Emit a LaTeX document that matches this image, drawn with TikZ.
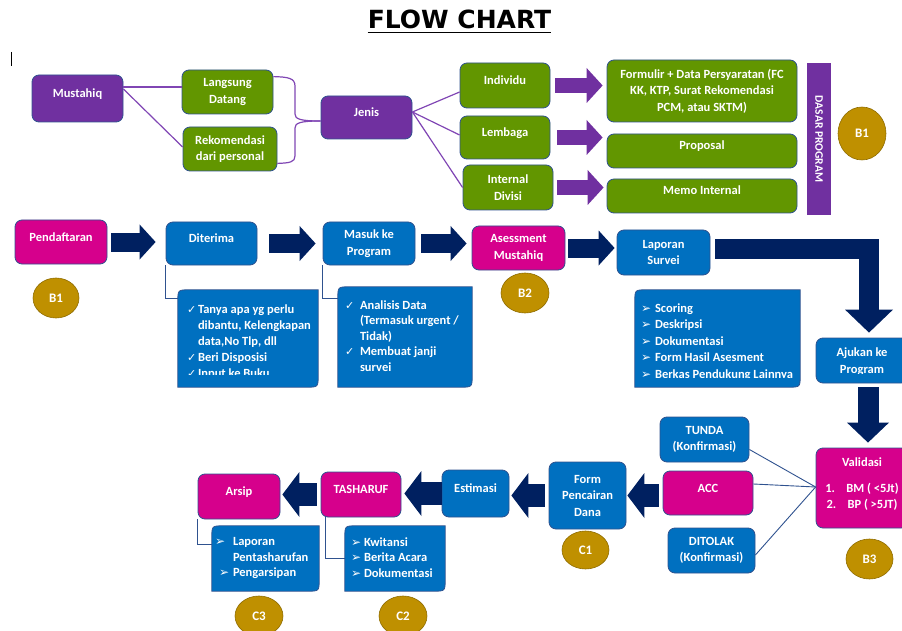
\documentclass[tikz,border=0pt]{standalone}
\usepackage{fontspec}
\setmainfont{Carlito}
\newfontfamily\dejavu{DejaVu Sans}
\usepackage{tikz}
\usetikzlibrary{arrows.meta,shapes.geometric,backgrounds}
\definecolor{boxPurple} {RGB}{112, 48, 160}
\definecolor{linkPurple}{RGB}{128, 70, 180}
\definecolor{boxGreen}  {RGB}{ 98,150,  0}
\definecolor{boxBlue}   {RGB}{  0,112,192}
\definecolor{boxPink}   {RGB}{214,  0,140}
\definecolor{arrowNavy} {RGB}{  0, 32, 96}
\definecolor{badgeGold} {RGB}{191,144,  0}
\definecolor{edgeBlue}  {RGB}{ 47, 82,143}

\newcommand{\chkmark}[1]{\makebox[#1][l]{\smash{\dejavu\fontsize{11}{10}\selectfont ✓}}}
\newcommand{\arrbul}[1]{\makebox[#1][l]{\smash{\dejavu\fontsize{12}{10}\selectfont ➢}}}
% frame with two rounded corners (top left, bottom right)
\newcommand{\diagframe}[1]{%
  \begin{scope}[on background layer]
    \path[bubframe] ([xshift=12pt]#1.north west) -- (#1.north east)
      -- ([yshift=12pt]#1.south east) .. controls (#1.south east) .. ([xshift=-12pt]#1.south east)
      -- (#1.south west) -- ([yshift=-12pt]#1.north west)
      .. controls (#1.north west) .. ([xshift=12pt]#1.north west) -- cycle;
  \end{scope}}

\begin{document}
\begin{tikzpicture}[x=1pt,y=-1pt,
          boxtext/.style={text=white,align=center,inner sep=1pt,
                          font=\bfseries\fontsize{12.5}{16.5}\selectfont},
          box/.style={boxtext,draw=edgeBlue,line width=0.8pt,rounded corners=7pt},
          purplebox/.style={box,fill=boxPurple},
          greenbox/.style={box,fill=boxGreen},
          bluebox/.style={box,fill=boxBlue},
          pinkbox/.style={box,fill=boxPink},
          toptxt/.style={text height=8pt,text depth=10pt},
          badge/.style={ellipse,fill=badgeGold,draw=badgeGold!75!black,line width=0.6pt,
                        text=white,inner sep=0pt,font=\bfseries\fontsize{13}{13}\selectfont},
          bubble/.style={inner sep=0pt},
          bubframe/.style={fill=boxBlue,draw=edgeBlue,line width=0.8pt},
          bubtext/.style={text=white,align=left,inner sep=0pt,anchor=north west},
          purplelink/.style={draw=linkPurple,line width=1.2pt},
          bluelink/.style={draw=edgeBlue,line width=0.9pt},
          purplearrow/.style={boxPurple,line width=15pt,
                              -{Triangle[length=16pt,width=35pt,line width=0pt]}},
          navyarrow/.style={arrowNavy,line width=19pt,
                            -{Triangle[length=16pt,width=35pt,line width=0pt]}},
          navyleft/.style={arrowNavy,line width=23pt,
                           -{Triangle[length=17pt,width=45pt,line width=0pt]}},
          bigarrow/.style={arrowNavy,line width=20pt,
                           -{Triangle[length=23pt,width=48pt,line width=0pt]}},
          downarrow/.style={arrowNavy,line width=21pt,
                            -{Triangle[length=20pt,width=42pt,line width=0pt]}},
        ]
        \useasboundingbox (0,0) rectangle (902,631);

        % TITLE
        \node[font=\dejavu\bfseries\fontsize{25}{25}\selectfont,inner sep=0pt,anchor=base]
          (ttl) at (459.5,29){FLOW CHART};
        \draw[line width=1.8pt]([yshift=-3.5pt]ttl.base west)--([yshift=-3.5pt]ttl.base east);
        \draw[line width=0.9pt](11,52)--(11,66);

        % JENIS MUSTAHIQ
        \node[purplebox,toptxt,minimum width=91pt,minimum height=47pt](mh) at (77.5,98.5){Mustahiq};
        \node[greenbox,minimum width=91pt,minimum height=44pt](ld) at (227.5,92){Langsung\\Datang};
        \node[greenbox,minimum width=94pt,minimum height=44pt](rk) at (230,149){Rekomendasi\\dari personal};
        \node[purplebox,toptxt,minimum width=91pt,minimum height=43pt](jn) at (366.5,117.5){Jenis};
        \node[greenbox,toptxt,minimum width=90pt,minimum height=45pt](iv) at (505,85.5){Individu};
        \node[greenbox,toptxt,minimum width=90pt,minimum height=43pt](lb) at (505,137.5){Lembaga};
        \node[greenbox,minimum width=90pt,minimum height=45pt](idv) at (508,187.5){Internal\\Divisi};
        \node[greenbox,minimum width=190pt,minimum height=62pt](fm) at (702,91)
          {Formulir + Data Persyaratan (FC\\KK, KTP, Surat Rekomendasi\\PCM, atau SKTM)};
        \node[greenbox,toptxt,minimum width=190pt,minimum height=34pt](pp) at (702,151){Proposal};
        \node[greenbox,toptxt,minimum width=190pt,minimum height=34pt](mi) at (702,196){Memo Internal};
        \node[fill=boxPurple,text=white,inner sep=0pt,minimum width=152pt,minimum height=24pt,
              rotate=-90,font=\bfseries\fontsize{11.5}{12}\selectfont](dp) at (819,139){DASAR PROGRAM};
        \node[badge,minimum width=48pt,minimum height=53pt](ba) at (862,133.5){B1};

        \draw[purplelink]([yshift=11.5pt]mh.east)--([yshift=5pt]ld.west);
        \draw[purplelink]([yshift=9.5pt]mh.east)--([yshift=2pt]rk.west);
        \coordinate(brtip) at ([yshift=-3.5pt]jn.west);
        \draw[purplelink]([yshift=-7pt]ld.north east) .. controls (288,77) and (295,78) .. (295,86)
          --(295,114) .. controls (295,119) and (300,121) .. (brtip);
        \draw[purplelink]([yshift=8pt]rk.south east) .. controls (290,163) and (295,162) .. (295,156)
          --(295,128) .. controls (295,123) and (300,121) .. (brtip);
        \draw[purplelink]([yshift=5.5pt]jn.east)--([yshift=-6.5pt]iv.west);
        \draw[purplelink]([yshift=5.5pt]jn.east)--([yshift=2.5pt]lb.west);
        \draw[purplelink]([yshift=5.5pt]jn.east)--(idv.west);

        \draw[purplearrow,shorten <=5pt,shorten >=4pt](iv.east)--(iv.east -| fm.west);
        \draw[purplearrow,shorten <=7pt,shorten >=4pt](lb.east)--(lb.east -| pp.west);
        \draw[purplearrow,shorten <=4pt,shorten >=3pt](idv.east)--(idv.east -| mi.west);

        % PENDAFTARAN - LAPORAN
        \node[pinkbox,toptxt,minimum width=92pt,minimum height=44pt](pd) at (61,242){Pendaftaran};
        \node[badge,minimum width=46pt,minimum height=40pt](bb) at (56,298){B1};
        \node[bluebox,toptxt,minimum width=91pt,minimum height=43pt](dt) at (211.5,243.5){Diterima};
        \node[bluebox,minimum width=92pt,minimum height=43pt](mk) at (369,243.5){Masuk ke\\Program};
        \node[pinkbox,minimum width=93pt,minimum height=44pt](as) at (518.5,248){Asessment\\Mustahiq};
        \node[badge,minimum width=48pt,minimum height=40pt](bc) at (525,293){B2};
        \node[bluebox,minimum width=93pt,minimum height=45pt](ls) at (663.5,252.5){Laporan\\Survei};

        \draw[navyarrow,shorten <=4pt,shorten >=10pt](pd.east)--(pd.east -| dt.west);
        \draw[navyarrow,shorten <=12pt,shorten >=7pt](dt.east)--(dt.east -| mk.west);
        \draw[navyarrow,shorten <=6pt,shorten >=5pt](mk.east)--(mk.east -| as.west);
        \draw[navyarrow,shorten <=3pt,shorten >=2pt](as.east)--(as.east -| ls.west);

        \node[bubble,minimum width=140pt,minimum height=97pt](dtb) at (248,338.5){};
        \node[bubble,minimum width=134pt,minimum height=100pt](mkb) at (405,337){};
        \node[bubble,minimum width=165pt,minimum height=97pt](lsb) at (717.5,338.5){};
        \diagframe{dtb}
        \diagframe{mkb}
        \diagframe{lsb}
        \begin{scope}
          \clip(dtb.north west) rectangle ([yshift=13pt]dtb.south east);
          \node[bubtext,font=\bfseries\fontsize{12.5}{16}\selectfont](dtbt)
            at ([xshift=9pt,yshift=-14.7pt]dtb.north west)
            {\chkmark{11pt}Tanya apa yg perlu\\
             \hspace*{11pt}dibantu, Kelengkapan\\
             \hspace*{11pt}data,No Tlp, dll\\
             \chkmark{11pt}Beri Disposisi\\
             \chkmark{11pt}Input ke Buku};
        \end{scope}
        \node[bubtext,font=\bfseries\fontsize{12.5}{15.5}\selectfont](mkbt)
          at ([xshift=7pt,yshift=-13.7pt]mkb.north west)
          {\chkmark{15pt}Analisis Data\\
           \hspace*{15pt}(Termasuk urgent /\\
           \hspace*{15pt}Tidak)\\
           \chkmark{15pt}Membuat janji\\
           \hspace*{15pt}survei};
        \begin{scope}
          \clip(lsb.north west) rectangle ([yshift=10pt]lsb.south east);
          \node[bubtext,font=\bfseries\fontsize{12.5}{16.5}\selectfont](lsbt)
            at ([xshift=6pt,yshift=-13.4pt]lsb.north west)
            {\arrbul{14pt}Scoring\\
             \arrbul{14pt}Deskripsi\\
             \arrbul{14pt}Dokumentasi\\
             \arrbul{14pt}Form Hasil Asesment\\
             \arrbul{14pt}Berkas Pendukung Lainnya};
        \end{scope}
        \draw[bluelink](dt.south west) |- ([yshift=-9pt]dtb.north west);
        \draw[bluelink](mk.south west) |- ([yshift=-12pt]mkb.north west);

        % PENGAJUAN - VALIDASI
        \node[bluebox,minimum width=92pt,minimum height=45pt](aj) at (862,360.5){};
        \begin{scope}
          \clip(aj.north west) rectangle ([yshift=10pt]aj.south east);
          \node[boxtext](ajt) at ([yshift=-1pt]aj.center){Ajukan ke\\Program};
        \end{scope}
        \draw[bigarrow]([xshift=5pt,yshift=4pt]ls.east) -| ([xshift=7pt,yshift=5pt]aj.north);
        \node[pinkbox,text depth=9pt,minimum width=92pt,minimum height=80pt](va) at (862,488)
          {Validasi\\[9pt]\makebox[21pt][l]{1.}BM ( <5Jt)\\\makebox[21pt][l]{2.}BP ( >5JT)};
        \draw[downarrow,shorten <=4pt,shorten >=5pt]([xshift=6pt]aj.south)--([xshift=6pt]va.north);
        \node[badge,minimum width=47pt,minimum height=40pt](bd) at (869.5,559){B3};

        \node[bluebox,minimum width=89pt,minimum height=45pt](td) at (704.5,439.5){TUNDA\\(Konfirmasi)};
        \node[pinkbox,toptxt,minimum width=90pt,minimum height=44pt](acc) at (708,493){ACC};
        \node[bluebox,minimum width=87pt,minimum height=45pt](dtl) at (711.5,550.5){DITOLAK\\(Konfirmasi)};
        \draw[bluelink]([yshift=1pt]va.west)--([yshift=-10pt]td.east);
        \draw[bluelink]([yshift=1pt]va.west)--([yshift=9pt]acc.east);
        \draw[bluelink]([yshift=1pt]va.west)--([yshift=-4.5pt]dtl.east);

        % PENCAIRAN - ARSIP
        \node[bluebox,minimum width=77pt,minimum height=67pt](fp) at (587.5,495.5){Form\\Pencairan\\Dana};
        \node[badge,minimum width=47pt,minimum height=38pt](ca) at (585.5,550){C1};
        \node[bluebox,toptxt,minimum width=67pt,minimum height=47pt](es) at (475.5,493.5){Estimasi};
        \node[pinkbox,toptxt,minimum width=80pt,minimum height=45pt](ts) at (361,494.5){TASHARUF};
        \node[pinkbox,toptxt,minimum width=82pt,minimum height=45pt](ar) at (239,496.5){Arsip};

        \draw[navyleft,shorten <=4pt,shorten >=1pt](fp.east -| acc.west)--(fp.east);
        \draw[navyleft,shorten <=4pt,shorten >=2pt](fp.west)--(fp.west -| es.east);
        \draw[navyleft,shorten >=3pt](es.west)--(es.west -| ts.east);
        \draw[navyleft,shorten <=4pt,shorten >=2pt](ts.west)--(ts.west -| ar.east);

        \node[bubble,minimum width=107pt,minimum height=65pt](arb) at (265.5,558.5){};
        \node[bubble,minimum width=100pt,minimum height=65pt](tsb) at (395,558.5){};
        \diagframe{arb}
        \diagframe{tsb}
        \node[bubtext,font=\bfseries\fontsize{12.5}{15.5}\selectfont](arbt)
          at ([xshift=3pt,yshift=-11.4pt]arb.north west)
          {\arrbul{18pt}Laporan\\
           \hspace*{18pt}Pentasharufan\\
           \hspace*{4pt}\arrbul{14pt}Pengarsipan};
        \node[bubtext,font=\bfseries\fontsize{12.5}{15.5}\selectfont](tsbt)
          at ([xshift=6pt,yshift=-11.4pt]tsb.north west)
          {\arrbul{13pt}Kwitansi\\
           \arrbul{13pt}Berita Acara\\
           \arrbul{13pt}Dokumentasi};
        \draw[bluelink](ar.south west) |- ([yshift=-19pt]arb.north west);
        \draw[bluelink]([xshift=5pt]ts.south west) |- ([yshift=-33pt]tsb.north west);
        \node[badge,minimum width=48pt,minimum height=40pt](cb) at (403,616){C2};
        \node[badge,minimum width=48pt,minimum height=40pt](cc) at (259,616){C3};
      \end{tikzpicture}
\end{document}
